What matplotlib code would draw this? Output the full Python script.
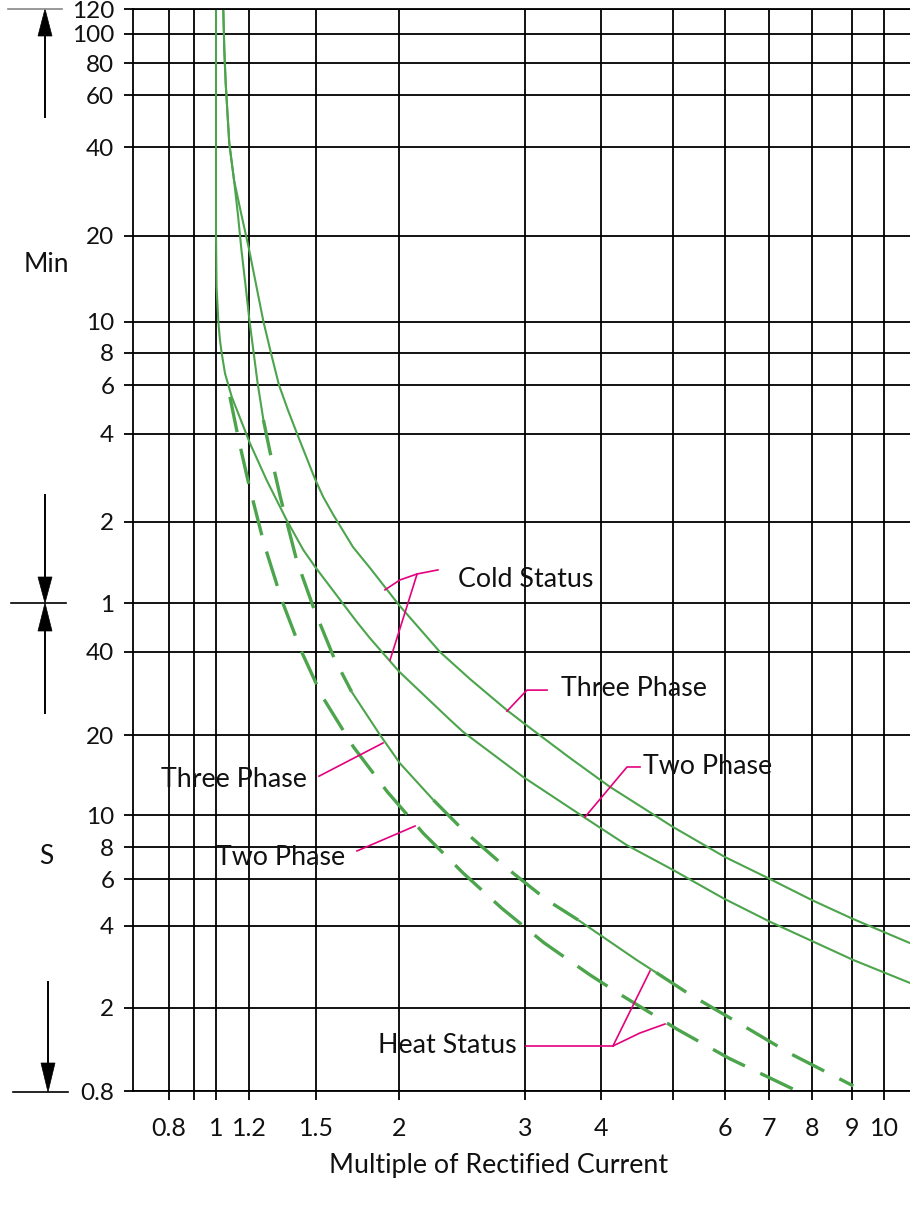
import numpy as np
import matplotlib
matplotlib.use("Agg")
import matplotlib.pyplot as plt
from matplotlib.ticker import FixedLocator, FixedFormatter, NullLocator
from matplotlib.patches import Polygon
from matplotlib.lines import Line2D

# ---------------- data ----------------
x_ticks = [0.8, 0.9, 1, 1.2, 1.5, 2, 3, 4, 5, 6, 7, 8, 9, 10]
x_ticklabels = ["0.8", "", "1", "1.2", "1.5", "2", "3", "4", "", "6", "7", "8", "9", "10"]
# time axis in seconds (upper part printed in minutes)
y_ticks = [0.8, 2, 4, 6, 8, 10, 20, 40, 60, 120, 240, 360, 480, 600, 1200, 2400, 3600, 4800, 6000, 7200]
y_ticklabels = ["0.8", "2", "4", "6", "8", "10", "20", "40", "1", "2", "4", "6", "8", "10",
                "20", "40", "60", "80", "100", "120"]

# Cold status, three phase (solid)
cold3_x = [1.041, 1.047, 1.055, 1.076, 1.1046, 1.151, 1.2, 1.259, 1.291, 1.326, 1.366, 1.408,
           1.454, 1.495, 1.538, 1.593, 1.705, 1.809, 2.0, 2.282, 2.514, 2.831, 3.0, 3.557,
           4.114, 5.0, 6.0, 7.02, 8.0, 9.03, 10.9]
cold3_t = [7200, 5300, 4000, 2475, 1856, 1414, 1080, 600, 478, 360, 292.2, 240,
           198, 167.7, 145.6, 126.4, 96.6, 80.8, 59.0, 40, 31.9, 24.6, 21.9, 16.39,
           12.75, 9.2, 7.31, 6.0, 5.0, 4.25, 3.46]

# Cold status, two phase (solid)
cold2_x = [1.0, 1.0, 1.003, 1.013, 1.022, 1.032, 1.051, 1.091, 1.204, 1.273, 1.360, 1.438,
           1.495, 1.727, 1.809, 2.0, 2.357, 2.460, 2.983, 3.741, 4.331, 5.0, 5.965, 7.02,
           9.04, 10.9]
cold2_t = [7200, 1229, 800, 599, 525, 477, 399, 326, 222, 166, 121.5, 94.2,
           81.7, 51.4, 44.8, 34.0, 22.7, 20.5, 13.9, 9.88, 8.11, 6.51, 5.08, 4.15,
           3.0, 2.47]

# Heat status, three phase (alternating solid / dashed pieces)
heat3_pieces = [
    ("solid", [1.041, 1.047, 1.055, 1.076, 1.1046, 1.129, 1.151, 1.177, 1.202, 1.235, 1.259],
              [7200, 5300, 4000, 2475, 1856, 1414, 1071, 806, 603, 365.5, 268.8]),
    ("dash",  [1.259, 1.287, 1.332, 1.406, 1.490, 1.597, 1.697],
              [268.8, 207.5, 145.6, 86.5, 57.1, 38.05, 28.7]),
    ("solid", [1.697, 1.873, 2.006, 2.234],
              [28.7, 20.0, 15.65, 11.39]),
    ("dash",  [2.234, 2.466, 2.804, 3.261, 3.671],
              [11.39, 8.94, 6.75, 5.0, 4.21]),
    ("solid", [3.671, 4.468, 4.744],
              [4.21, 3.0, 2.70]),
    ("dash",  [4.744, 5.288, 6.368, 7.470, 9.04],
              [2.70, 2.252, 1.658, 1.211, 0.846]),
]

# Heat status, two phase (dashed)
heat2_x = [1.080, 1.121, 1.148, 1.2, 1.261, 1.338, 1.427, 1.530, 1.707, 1.920, 2.163,
           2.460, 2.784, 3.224, 3.837, 4.242, 5.076, 6.084, 7.549]
heat2_t = [326, 247, 211, 160, 99.7, 61.6, 40.5, 27.8, 18.07, 12.24, 8.80,
           6.32, 4.66, 3.47, 2.645, 2.246, 1.58, 1.148, 0.816]

# printed (non-uniform) scale calibration of the original grid, relative units
x_grid_units = [169, 193.5, 216, 249, 316, 399, 525, 601, 673, 725, 769, 812, 852, 884]
y_grid_units = [0, 83, 165, 212, 244, 276, 356, 439, 488, 569.5, 657.5, 706, 738.5, 769.5,
                855, 944, 996, 1028, 1057, 1082]

GREEN = "#4ca44c"
MAGENTA = "#e5007d"
TXT = "#111111"
FONT = ["Lato", "DejaVu Sans"]
plt.rcParams["font.family"] = FONT


def make_scale(vals, units):
    lv = np.log10(np.asarray(vals, float))
    u = np.asarray(units, float)
    s0 = (u[1] - u[0]) / (lv[1] - lv[0])
    s1 = (u[-1] - u[-2]) / (lv[-1] - lv[-2])

    def fwd(v):
        v = np.asarray(v, float)
        l = np.log10(np.clip(v, 1e-12, None))
        out = np.interp(l, lv, u)
        out = np.where(l < lv[0], u[0] + (l - lv[0]) * s0, out)
        out = np.where(l > lv[-1], u[-1] + (l - lv[-1]) * s1, out)
        return out

    def inv(p):
        p = np.asarray(p, float)
        l = np.interp(p, u, lv)
        l = np.where(p < u[0], lv[0] + (p - u[0]) / s0, l)
        l = np.where(p > u[-1], lv[-1] + (p - u[-1]) / s1, l)
        return 10 ** l

    return fwd, inv


W, H = 910, 1215
fig = plt.figure(figsize=(W / 100, H / 100), dpi=100)
ax_left, ax_right, ax_top, ax_bot = 133, 910, 9, 1091
ax = fig.add_axes([ax_left / W, 1 - ax_bot / H, (ax_right - ax_left) / W, (ax_bot - ax_top) / H])

xf, xi = make_scale(x_ticks, x_grid_units)
yf, yi = make_scale(y_ticks, y_grid_units)
ax.set_xscale("function", functions=(xf, xi))
ax.set_yscale("function", functions=(yf, yi))
ax.set_xlim(float(xi(ax_left)), float(xi(ax_right)))
ax.set_ylim(0.8, 7200)

ax.xaxis.set_major_locator(FixedLocator(x_ticks))
ax.xaxis.set_major_formatter(FixedFormatter(x_ticklabels))
ax.yaxis.set_major_locator(FixedLocator(y_ticks))
ax.yaxis.set_major_formatter(FixedFormatter(y_ticklabels))
ax.xaxis.set_minor_locator(NullLocator())
ax.yaxis.set_minor_locator(NullLocator())
ax.grid(True, color="black", lw=1.3)
ax.set_axisbelow(True)
ax.tick_params(axis="both", direction="out", length=6.5, width=1.3, color="black",
               labelcolor=TXT)
ax.tick_params(axis="x", pad=12, labelsize=18)
ax.tick_params(axis="y", pad=7, labelsize=17.5)
for s in ["left", "top", "bottom"]:
    ax.spines[s].set_linewidth(1.3)
    ax.spines[s].set_color("black")
ax.spines["right"].set_visible(False)

# curves
SOLID = dict(color=GREEN, lw=1.5, solid_capstyle="butt", solid_joinstyle="round")
DASH = dict(color=GREEN, lw=2.4, dashes=(10.8, 5.1), dash_capstyle="butt")
ax.plot(cold3_x, cold3_t, **SOLID)
ax.plot(cold2_x, cold2_t, **SOLID)
for style, px_, pt_ in heat3_pieces:
    ax.plot(px_, pt_, **(SOLID if style == "solid" else DASH))
ax.plot(heat2_x, heat2_t, **DASH)

# leader lines & labels
lk = dict(color=MAGENTA, lw=1.2, clip_on=False)
tk = dict(fontsize=19.3, color=TXT, va="center", clip_on=False)
ax.plot([1.905, 2.006, 2.120, 2.267], [67.1, 73.0, 76.8, 79.5], **lk)
ax.plot([2.120, 1.939], [76.8, 37.4], **lk)
ax.text(2.418, 73, "Cold Status", ha="left", **tk)

ax.plot([2.831, 3.022, 3.261], [24.4, 29.1, 29.1], **lk)
ax.text(3.438, 29.6, "Three Phase", ha="left", **tk)

ax.plot([3.765, 4.336, 4.514], [9.86, 15.16, 15.16], **lk)
ax.text(4.556, 15.2, "Two Phase", ha="left", **tk)

ax.plot([1.516, 1.892], [14.0, 18.66], **lk)
ax.text(1.455, 13.66, "Three Phase", ha="right", **tk)

ax.plot([1.729, 2.106], [7.72, 9.26], **lk)
ax.text(1.658, 7.25, "Two Phase", ha="right", **tk)

ax.plot([3.011, 4.151], [1.315, 1.315], **lk)
ax.plot([4.151, 4.656], [1.315, 2.735], **lk)
ax.plot([4.151, 4.514, 4.877], [1.315, 1.518, 1.676], **lk)
ax.text(2.924, 1.32, "Heat Status", ha="right", **tk)


# ---- decorations in figure pixels ----
def P(x, y):
    return (x / W, 1 - y / H)


def hline(x0, x1, y, color="black", lw=1.2):
    fig.add_artist(Line2D([x0 / W, x1 / W], [1 - y / H, 1 - y / H], color=color, lw=lw,
                          transform=fig.transFigure))


def vline(x, y0, y1, lw=1.4):
    fig.add_artist(Line2D([x / W, x / W], [1 - y0 / H, 1 - y1 / H], color="black", lw=lw,
                          transform=fig.transFigure))


def tri(tip, base_y, half=7):
    x, y = tip
    fig.add_artist(Polygon([P(x, y), P(x - half, base_y), P(x + half, base_y)], closed=True,
                           facecolor="black", edgecolor="black", lw=0.5,
                           transform=fig.transFigure))


hline(8, 62, 9, color="#888888")
tri((45, 9), 36)
vline(45, 36, 117)

vline(45, 495, 578)
tri((45, 603), 577)
hline(11, 66, 603)
tri((45, 603), 631)
vline(45, 631, 713)

vline(48, 982, 1064)
tri((48, 1092), 1063)
hline(13, 68, 1092)

fig.text(*P(46, 265), "Min", fontsize=19, ha="center", va="center", color=TXT)
fig.text(*P(46, 857), "S", fontsize=19, ha="center", va="center", color=TXT)
fig.text(*P(499, 1166), "Multiple of Rectified Current", fontsize=19.3, ha="center",
         va="center", color=TXT)

fig.savefig("out.png", dpi=100)
